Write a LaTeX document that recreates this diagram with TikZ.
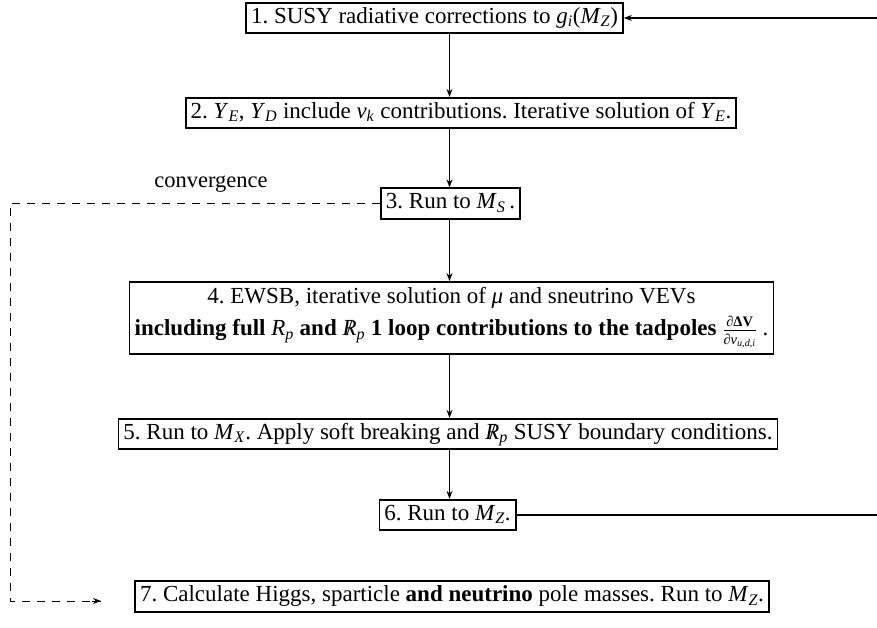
\documentclass[tikz,border=0pt]{standalone}
\usepackage{fontspec}
\setmainfont{Liberation Serif}
\usetikzlibrary{arrows.meta}
\frenchspacing
\newcommand{\sbi}[1]{\textsubscript{\textit{#1}}}
\newcommand{\Rsl}{\ooalign{\hfil\textit{R}\hfil\cr\hfil\textup{/}\hfil\cr}}
\begin{document}
\begin{tikzpicture}[x=1pt,y=-1pt,
  box/.style={draw,line width=1.7pt,inner xsep=5pt,inner ysep=5pt,text height=15.5pt,text depth=5pt,
    font=\fontsize{23}{27}\selectfont},
  arr/.style={line width=1.8pt,-{Stealth[length=8pt,width=6pt]}},
  ln/.style={line width=1.8pt},
  dsh/.style={line width=0.9pt,dash pattern=on 8pt off 7pt}]
\useasboundingbox (0,0) rectangle (877,628);
\node[box] (b1) at (434.5,18) {1. SUSY radiative corrections to \textit{g}\sbi{i}(\textit{M}\sbi{Z})};
\node[box] (b2) at (461,113) {2. \textit{Y}\sbi{E}, \textit{Y}\sbi{D} include \textit{v}\sbi{k} contributions. Iterative solution of \textit{Y}\sbi{E}.};
\node[box] (b3) at (450.5,203.5) {3. Run to \textit{M}\sbi{S}\,.};
\node[draw,line width=1.7pt,inner xsep=5pt,inner ysep=0pt,align=center,minimum height=72pt,
  font=\fontsize{23}{27}\selectfont] (b4) at (451.5,318)
  {4. EWSB, iterative solution of \textit{μ} and sneutrino VEVs\\[5pt]
   \textbf{including full} \textit{R}\sbi{p} \textbf{and} \Rsl\sbi{p} \textbf{1 loop contributions to the tadpoles}
   $\frac{\hbox{\fontsize{14.5}{15}\selectfont ∂\textbf{ΔV}}}{\hbox{\fontsize{14.5}{15}\selectfont ∂\textit{v}\sbi{u,d,i}}}$ .};
\node[box] (b5) at (448,434) {5. Run to \textit{M}\sbi{X}. Apply soft breaking and \Rsl\sbi{p} SUSY boundary conditions.};
\node[box] (b6) at (447.5,515) {6. Run to \textit{M}\sbi{Z}.};
\node[box] (b7) at (452,596.5) {7. Calculate Higgs, sparticle \textbf{and neutrino} pole masses. Run to \textit{M}\sbi{Z}.};
\node[font=\fontsize{22.5}{27}\selectfont] (conv) at (211,184) {convergence};
\coordinate (ax) at (449.5,0);
\draw[arr] (b1.south -| ax) -- (b2.north -| ax);
\draw[arr] (b2.south -| ax) -- (b3.north -| ax);
\draw[arr] (b3.south -| ax) -- (b4.north -| ax);
\draw[arr] (b4.south -| ax) -- (b5.north -| ax);
\draw[arr] (b5.south -| ax) -- (b6.north -| ax);
\coordinate (r6) at (877,515);
\coordinate (r1) at (877,18);
\draw[ln] (b6.east) -- (r6);
\draw[arr] (r1) -- (b1.east);
\coordinate (dc) at (10,601);
\coordinate (dend) at (101,601);
\draw[dsh] (b3.west) -| (dc) -- (dend);
\draw[line width=0.9pt,-{Stealth[length=8pt,width=6pt]}] (92,601) -- (dend);
\end{tikzpicture}
\end{document}
